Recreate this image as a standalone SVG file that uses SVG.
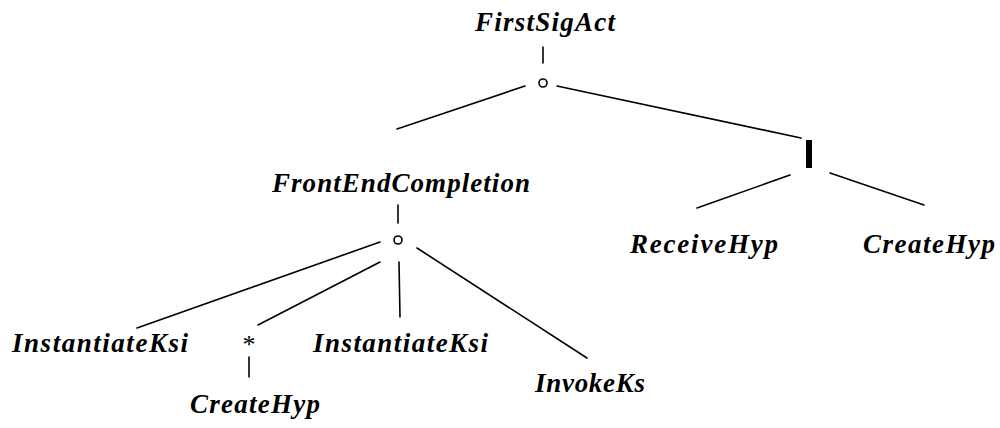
<svg xmlns="http://www.w3.org/2000/svg" width="1000" height="428" viewBox="0 0 1000 428">
<style>
.lbl{font-family:"Liberation Serif","DejaVu Serif",serif;font-style:italic;font-weight:bold;font-size:27px;fill:#000}
.ln{stroke:#000;stroke-width:1.6;fill:none;stroke-linecap:round}
.op{stroke:#000;stroke-width:1.6;fill:#fff}
</style>
<rect width="1000" height="428" fill="#fff"/>
<g id="connectors">
<line class="ln" x1="543" y1="47" x2="543" y2="63"/>
<line class="ln" x1="525" y1="86" x2="397" y2="129"/>
<line class="ln" x1="557" y1="86" x2="801" y2="138"/>
<line class="ln" x1="790" y1="175" x2="697" y2="208"/>
<line class="ln" x1="830" y1="173" x2="924" y2="205"/>
<line class="ln" x1="398" y1="205" x2="398" y2="223"/>
<line class="ln" x1="380" y1="242" x2="137" y2="328"/>
<line class="ln" x1="380" y1="262" x2="258" y2="325"/>
<line class="ln" x1="399" y1="262" x2="400" y2="317"/>
<line class="ln" x1="417" y1="248" x2="587" y2="358"/>
<line class="ln" x1="249" y1="357" x2="249" y2="377"/>
</g>
<g id="n-firstsigact"><text class="lbl" x="475" y="31" textLength="140" lengthAdjust="spacing">FirstSigAct</text></g>
<g id="n-seq1"><circle class="op" cx="543" cy="83" r="4"/></g>
<g id="n-par"><rect x="806" y="140" width="6" height="28" fill="#000"/></g>
<g id="n-frontend"><text class="lbl" x="272" y="192" textLength="258" lengthAdjust="spacing">FrontEndCompletion</text></g>
<g id="n-seq2"><circle class="op" cx="398" cy="240" r="4"/></g>
<g id="n-receivehyp"><text class="lbl" x="630" y="253" textLength="148" lengthAdjust="spacing">ReceiveHyp</text></g>
<g id="n-createhyp1"><text class="lbl" x="863" y="253" textLength="132" lengthAdjust="spacing">CreateHyp</text></g>
<g id="n-instksi1"><text class="lbl" x="12" y="352" textLength="176" lengthAdjust="spacing">InstantiateKsi</text></g>
<g id="n-star"><text x="249" y="353" style="font-family:'Liberation Serif',serif;font-size:26px;text-anchor:middle">*</text></g>
<g id="n-instksi2"><text class="lbl" x="313" y="352" textLength="175" lengthAdjust="spacing">InstantiateKsi</text></g>
<g id="n-invokeks"><text class="lbl" x="535" y="392" textLength="110" lengthAdjust="spacing">InvokeKs</text></g>
<g id="n-createhyp2"><text class="lbl" x="190" y="413" textLength="130" lengthAdjust="spacing">CreateHyp</text></g>
</svg>
